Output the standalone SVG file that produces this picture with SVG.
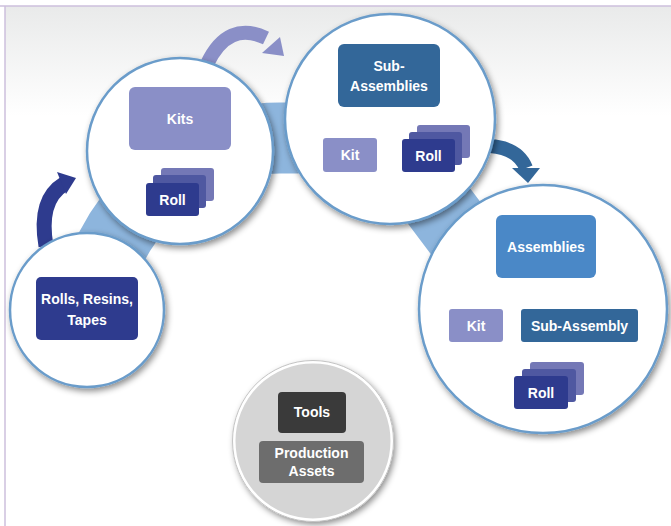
<svg xmlns="http://www.w3.org/2000/svg" width="671" height="526" viewBox="0 0 671 526">
<defs>
<linearGradient id="bg" x1="0" y1="0" x2="0" y2="1">
<stop offset="0" stop-color="#e9eaea"/>
<stop offset="1" stop-color="#ffffff"/>
</linearGradient>
<filter id="sh" x="-20%" y="-20%" width="140%" height="140%">
<feDropShadow dx="2" dy="3" stdDeviation="3" flood-color="#000" flood-opacity="0.45"/>
</filter>
<style>
.c{fill:#fff;stroke:#6a9cca;stroke-width:2.5;filter:url(#sh)}
.t{font-family:"Liberation Sans",Arial,sans-serif;font-weight:bold;font-size:14px;fill:#fff;text-anchor:middle}
.navy{fill:#2e3b8e}
.mid{fill:#4f58a1}
.back{fill:#7478b6}
.lav{fill:#8a8fc7}
.steel{fill:#336799}
.blue{fill:#4a88c7}
</style>
</defs>
<rect x="0" y="0" width="671" height="526" fill="#fff"/>
<rect x="5" y="6" width="666" height="110" fill="url(#bg)"/>
<line x1="0" y1="6" x2="671" y2="6" stroke="#cdbfdc" stroke-width="1.5"/>
<line x1="5" y1="6" x2="5" y2="526" stroke="#cdbfdc" stroke-width="1.5"/>

<g id="connectors">
<path d="M 70 320 L 120 232 Q 182 138 280 138 L 340 138 Q 388 138 436 202 L 500 287" fill="none" stroke="#8db5dd" stroke-width="71"/>
<path d="M 46 246 Q 38 200 64 184" fill="none" stroke="#2e3b8e" stroke-width="15"/>
<polygon points="57,172 76,178 66,194" fill="#2e3b8e"/>
<path d="M 207 64 Q 228 20 266 38" fill="none" stroke="#8a8fc7" stroke-width="14"/>
<polygon points="280,37 284,56 262,53" fill="#8a8fc7"/>
<path d="M 490 146 Q 518 148 526 168" fill="none" stroke="#336799" stroke-width="14"/>
<polygon points="512,168 540,168 528,183" fill="#336799"/>
</g>

<g id="rolls">
<circle class="c" cx="87" cy="310" r="77"/>
<rect class="navy" x="36" y="277" width="102" height="63" rx="5"/>
<text class="t" x="87" y="304">Rolls, Resins,</text>
<text class="t" x="87" y="325">Tapes</text>
</g>

<g id="kits">
<circle class="c" cx="180" cy="151" r="93"/>
<rect class="lav" x="129" y="87" width="102" height="63" rx="6"/>
<text class="t" x="180" y="124">Kits</text>
<rect class="back" x="161" y="168" width="53" height="33" rx="3"/>
<rect class="mid" x="153" y="175" width="53" height="33" rx="3"/>
<rect class="navy" x="146" y="183" width="53" height="33" rx="3"/>
<text class="t" x="172.5" y="204.5">Roll</text>
</g>

<g id="subassemblies">
<circle class="c" cx="390" cy="119" r="105"/>
<rect class="steel" x="338" y="44" width="102" height="63" rx="6"/>
<text class="t" x="389" y="71">Sub-</text>
<text class="t" x="389" y="91">Assemblies</text>
<rect class="lav" x="323" y="138" width="54" height="34" rx="3"/>
<text class="t" x="350" y="160">Kit</text>
<rect class="back" x="417" y="125" width="53" height="33" rx="3"/>
<rect class="mid" x="409" y="132" width="53" height="33" rx="3"/>
<rect class="navy" x="402" y="139" width="53" height="33" rx="3"/>
<text class="t" x="428.5" y="160.5">Roll</text>
</g>

<g id="assemblies">
<circle class="c" cx="543" cy="309" r="124"/>
<rect class="blue" x="496" y="215" width="100" height="63" rx="6"/>
<text class="t" x="546" y="251.5">Assemblies</text>
<rect class="lav" x="449" y="309" width="54" height="33" rx="3"/>
<text class="t" x="476" y="330.5">Kit</text>
<rect class="steel" x="521" y="309" width="117" height="33" rx="3"/>
<text class="t" x="579.5" y="330.5">Sub-Assembly</text>
<rect class="back" x="530" y="362" width="54" height="33" rx="3"/>
<rect class="mid" x="522" y="369" width="54" height="33" rx="3"/>
<rect class="navy" x="514" y="376" width="54" height="33" rx="3"/>
<text class="t" x="541" y="397.5">Roll</text>
</g>

<g id="tools">
<circle cx="313" cy="441" r="79" fill="#d5d5d5" stroke="#fff" stroke-width="3" filter="url(#sh)"/>
<circle cx="313" cy="441" r="80.5" fill="none" stroke="#c4c4c4" stroke-width="1"/>
<rect x="278" y="392" width="68" height="41" rx="4" fill="#3a3a3a"/>
<text class="t" x="312" y="417">Tools</text>
<rect x="259" y="441" width="105" height="42" rx="4" fill="#6d6d6d"/>
<text class="t" x="311.5" y="458">Production</text>
<text class="t" x="311.5" y="476">Assets</text>
</g>
</svg>
